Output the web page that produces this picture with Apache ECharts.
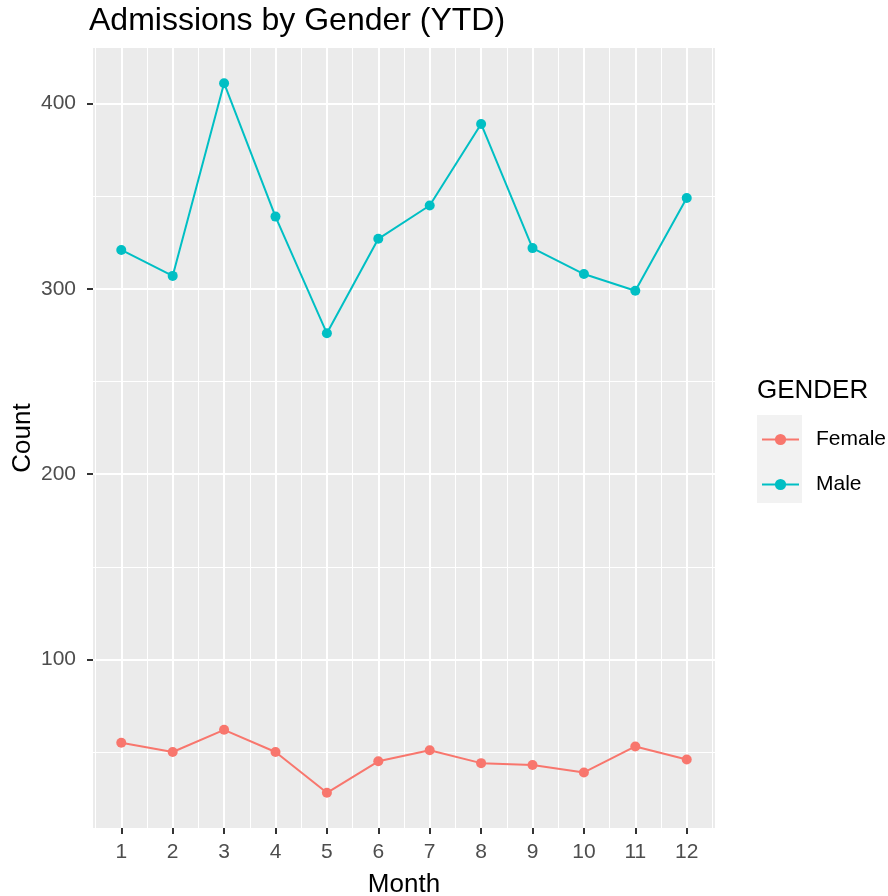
<!DOCTYPE html>
<html>
<head>
<meta charset="utf-8">
<script src="https://cdn.jsdelivr.net/npm/echarts@6/dist/echarts.min.js"></script>
<style>
  html, body { margin: 0; padding: 0; background: #fff; }
  #chart { width: 888px; height: 896px; }
</style>
</head>
<body>
<div id="chart"></div>
<script>
// data
var months = [1, 2, 3, 4, 5, 6, 7, 8, 9, 10, 11, 12];
var female = [55, 50, 62, 50, 28, 45, 51, 44, 43, 39, 53, 46];
var male = [321, 307, 411, 339, 276, 327, 345, 389, 322, 308, 299, 349];
var yTicks = [100, 200, 300, 400];
var yMinor = [50, 150, 250, 350];
var xMinor = [0.5, 1.5, 2.5, 3.5, 4.5, 5.5, 6.5, 7.5, 8.5, 9.5, 10.5, 11.5, 12.5];

var FEMALE = "#F8766D", MALE = "#00BFC4";

function pairs(vals) {
  return months.map(function (m, i) { return [m, vals[i]]; });
}

// grid lines drawn as markLines so they sit on the ggplot positions
function gridLines() {
  var d = [];
  xMinor.forEach(function (v) { d.push({ xAxis: v, lineStyle: { width: 1 } }); });
  yMinor.forEach(function (v) { d.push({ yAxis: v, lineStyle: { width: 1 } }); });
  months.forEach(function (v) { d.push({ xAxis: v, lineStyle: { width: 2 } }); });
  yTicks.forEach(function (v) { d.push({ yAxis: v, lineStyle: { width: 2 } }); });
  return d;
}

var myChart = echarts.init(document.getElementById("chart"));

var option = {
  animation: false,
  title: [
    {
      text: "Admissions by Gender (YTD)",
      left: 89,
      top: 5,
      padding: 0,
      textStyle: { color: "#000", fontSize: 32, fontWeight: "normal", fontFamily: "Liberation Sans" }
    },
    {
      text: "GENDER",
      left: 757,
      top: 378,
      padding: 0,
      textStyle: { color: "#000", fontSize: 26, fontWeight: "normal", fontFamily: "Liberation Sans" }
    }
  ],
  graphic: [
    {
      type: "rect",
      left: 757,
      top: 415,
      shape: { width: 45, height: 88 },
      style: { fill: "#F2F2F2" },
      z: 0
    }
  ],
  legend: {
    orient: "vertical",
    left: 756,
    top: 424,
    itemWidth: 37,
    itemHeight: 14,
    itemGap: 24,
    textStyle: { color: "#000", fontSize: 21, fontFamily: "Liberation Sans", padding: [0, 0, 0, 12] },
    data: ["Female", "Male"]
  },
  grid: {
    left: 93,
    right: 173,
    top: 48,
    bottom: 68,
    outerBoundsMode: "none",
    show: true,
    backgroundColor: "#EBEBEB",
    borderWidth: 0
  },
  xAxis: {
    type: "value",
    min: 0.45,
    max: 12.55,
    name: "Month",
    nameLocation: "middle",
    nameGap: 44,
    nameMoveOverlap: false,
    nameTextStyle: { color: "#000", fontSize: 26, fontFamily: "Liberation Sans" },
    axisLine: { show: false },
    splitLine: { show: false },
    axisTick: { show: true, length: 6, lineStyle: { color: "#333", width: 2 }, customValues: months },
    axisLabel: { color: "#4D4D4D", fontSize: 21, fontFamily: "Liberation Sans", margin: 14, customValues: months }
  },
  yAxis: {
    type: "value",
    min: 9,
    max: 430,
    name: "Count",
    nameLocation: "middle",
    nameGap: 57,
    nameMoveOverlap: false,
    nameTextStyle: { color: "#000", fontSize: 26, fontFamily: "Liberation Sans" },
    axisLine: { show: false },
    splitLine: { show: false },
    axisTick: { show: true, length: 6, lineStyle: { color: "#333", width: 2 }, customValues: yTicks },
    axisLabel: { color: "#4D4D4D", fontSize: 21, fontFamily: "Liberation Sans", margin: 17, customValues: yTicks }
  },
  series: [
    {
      name: "grid",
      type: "line",
      data: [],
      silent: true,
      z: 1,
      markLine: {
        silent: true,
        z: 1,
        symbol: "none",
        label: { show: false },
        lineStyle: { color: "#FFFFFF", type: "solid" },
        data: gridLines()
      }
    },
    {
      name: "Female",
      type: "line",
      data: pairs(female),
      symbol: "circle",
      symbolSize: 10,
      z: 3,
      itemStyle: { color: FEMALE },
      lineStyle: { color: FEMALE, width: 2 }
    },
    {
      name: "Male",
      type: "line",
      data: pairs(male),
      symbol: "circle",
      symbolSize: 10,
      z: 3,
      itemStyle: { color: MALE },
      lineStyle: { color: MALE, width: 2 }
    }
  ]
};

myChart.setOption(option);
</script>
</body>
</html>
